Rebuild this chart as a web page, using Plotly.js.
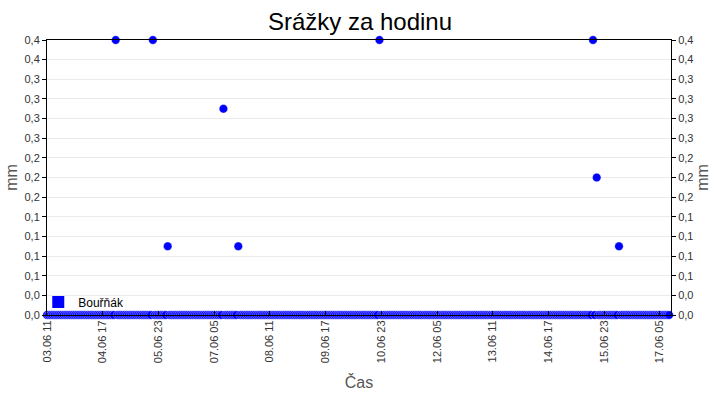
<!DOCTYPE html>
<html>
<head>
<meta charset="utf-8">
<script src="https://cdn.plot.ly/plotly-3.0.1.min.js"></script>
<style>
  html, body { margin: 0; padding: 0; background: #fff; }
  #chart { width: 720px; height: 400px; }
</style>
</head>
<body>
<div id="chart"></div>
<script>
// ---- data ----
var chartTitle = 'Srážky za hodinu';
var seriesName = 'Bouřňák';
var xTitle = 'Čas';
var yTitle = 'mm';

// hourly precipitation, first value at 2023-06-03 11:00
var startTime = '2023-06-03T11:00:00';
var rain0306 = [0,0,0,0,0,0,0,0,0,0,0,0,0];                                   // 11..23
var rain0406 = [0,0,0,0,0,0,0,0,0,0,0,0,0,0,0,0,0,0,0,0,0,0,0,0];
var rain0506 = [0.4,0,0,0,0,0,0,0,0,0,0,0,0,0,0,0,0,0,0,0,0.4,0,0,0];
var rain0606 = [0,0,0,0,0.1,0,0,0,0,0,0,0,0,0,0,0,0,0,0,0,0,0,0,0];
var rain0706 = [0,0,0,0,0,0,0,0,0,0,0.3,0,0,0,0,0,0,0,0.1,0,0,0,0,0];
var rain0806 = [0,0,0,0,0,0,0,0,0,0,0,0,0,0,0,0,0,0,0,0,0,0,0,0];
var rain0906 = [0,0,0,0,0,0,0,0,0,0,0,0,0,0,0,0,0,0,0,0,0,0,0,0];
var rain1006 = [0,0,0,0,0,0,0,0,0,0,0,0,0,0,0,0,0,0,0,0,0,0,0.4,0];
var rain1106 = [0,0,0,0,0,0,0,0,0,0,0,0,0,0,0,0,0,0,0,0,0,0,0,0];
var rain1206 = [0,0,0,0,0,0,0,0,0,0,0,0,0,0,0,0,0,0,0,0,0,0,0,0];
var rain1306 = [0,0,0,0,0,0,0,0,0,0,0,0,0,0,0,0,0,0,0,0,0,0,0,0];
var rain1406 = [0,0,0,0,0,0,0,0,0,0,0,0,0,0,0,0,0,0,0,0,0,0,0,0];
var rain1506 = [0,0,0,0,0,0,0,0,0,0,0,0,0,0,0,0,0,0.4,0,0.2,0,0,0,0];
var rain1606 = [0,0,0,0,0,0,0,0.1,0,0,0,0,0,0,0,0,0,0,0,0,0,0,0,0];
var rain1706 = [0,0,0,0,0,0,0,0,0,0,0];                                       // 00..10

var xTickVals = ['2023-06-03 11:00','2023-06-04 17:00','2023-06-05 23:00','2023-06-07 05:00',
                 '2023-06-08 11:00','2023-06-09 17:00','2023-06-10 23:00','2023-06-12 05:00',
                 '2023-06-13 11:00','2023-06-14 17:00','2023-06-15 23:00','2023-06-17 05:00'];
var xTickText = ['03.06 11','04.06 17','05.06 23','07.06 05','08.06 11','09.06 17',
                 '10.06 23','12.06 05','13.06 11','14.06 17','15.06 23','17.06 05'];

var yTickVals = [0,0.02857,0.05714,0.08571,0.11429,0.14286,0.17143,0.2,
                 0.22857,0.25714,0.28571,0.31429,0.34286,0.37143,0.4];
var yTickText = ['0,0','0,0','0,1','0,1','0,1','0,1','0,2','0,2',
                 '0,2','0,3','0,3','0,3','0,3','0,4','0,4'];

// ---- build ----
var rainValues = [].concat(rain0306, rain0406, rain0506, rain0606, rain0706, rain0806,
  rain0906, rain1006, rain1106, rain1206, rain1306, rain1406, rain1506, rain1606, rain1706);

function pad(n){ return (n < 10 ? '0' : '') + n; }
var t0 = new Date(startTime + 'Z').getTime();
var times = rainValues.map(function(_, i){
  var d = new Date(t0 + i * 3600000);
  return d.getUTCFullYear() + '-' + pad(d.getUTCMonth()+1) + '-' + pad(d.getUTCDate()) +
         ' ' + pad(d.getUTCHours()) + ':00';
});

var blue = '#0000ff';
var font = 'Liberation Sans, Arial, sans-serif';

var traces = [
  { x: times, y: rainValues, type: 'scatter', mode: 'markers', showlegend: false,
    cliponaxis: false,
    marker: { color: blue, size: 8.5, line: { width: 0.6, color: 'rgba(255,255,255,0.6)' } } },
  { x: [null], y: [null], type: 'scatter', mode: 'markers', name: seriesName,
    marker: { color: blue, size: 12, symbol: 'square' } },
  { x: [], y: [], type: 'scatter', mode: 'markers', yaxis: 'y2', showlegend: false }
];

var layout = {
  width: 720, height: 400,
  margin: { l: 47, r: 49, t: 40, b: 85 },
  paper_bgcolor: '#fff', plot_bgcolor: '#fff',
  hovermode: false,
  font: { family: font, size: 11, color: '#333' },
  title: { text: chartTitle, x: 0.5, xanchor: 'center', y: 0.945, yanchor: 'middle',
           font: { family: font, size: 24, color: '#000' } },
  xaxis: {
    type: 'date',
    range: ['2023-06-03 11:00', '2023-06-17 11:00'],
    tickmode: 'array', tickvals: xTickVals, ticktext: xTickText,
    tickangle: -90, ticks: 'inside', ticklen: 4, tickcolor: '#000',
    tickfont: { size: 11, color: '#333' },
    showgrid: false, zeroline: false,
    showline: true, linecolor: '#000', linewidth: 1, mirror: true,
    title: { text: xTitle, font: { size: 16, color: '#555' }, standoff: 14 }
  },
  yaxis: {
    range: [0, 0.4],
    tickmode: 'array', tickvals: yTickVals, ticktext: yTickText,
    ticks: 'outside', ticklen: 4, tickcolor: '#000',
    tickfont: { size: 11, color: '#333' },
    showgrid: true, gridcolor: '#ebebeb', gridwidth: 1, zeroline: false,
    showline: true, linecolor: '#000', linewidth: 1,
    title: { text: yTitle, font: { size: 16, color: '#555' }, standoff: 2 }
  },
  yaxis2: {
    overlaying: 'y', side: 'right', range: [0, 0.4],
    tickmode: 'array', tickvals: yTickVals, ticktext: yTickText,
    ticks: 'outside', ticklen: 4, tickcolor: '#000',
    tickfont: { size: 11, color: '#333' },
    showgrid: false, zeroline: false,
    showline: true, linecolor: '#000', linewidth: 1,
    title: { text: yTitle, font: { size: 16, color: '#555' }, standoff: 4 }
  },
  showlegend: true,
  legend: {
    x: -0.014, y: -0.005, xanchor: 'left', yanchor: 'bottom',
    bgcolor: 'rgba(0,0,0,0)', borderwidth: 0,
    font: { size: 12, color: '#000' },
    itemwidth: 30
  }
};

Plotly.newPlot('chart', traces, layout, { displayModeBar: false, staticPlot: true });
</script>
</body>
</html>
